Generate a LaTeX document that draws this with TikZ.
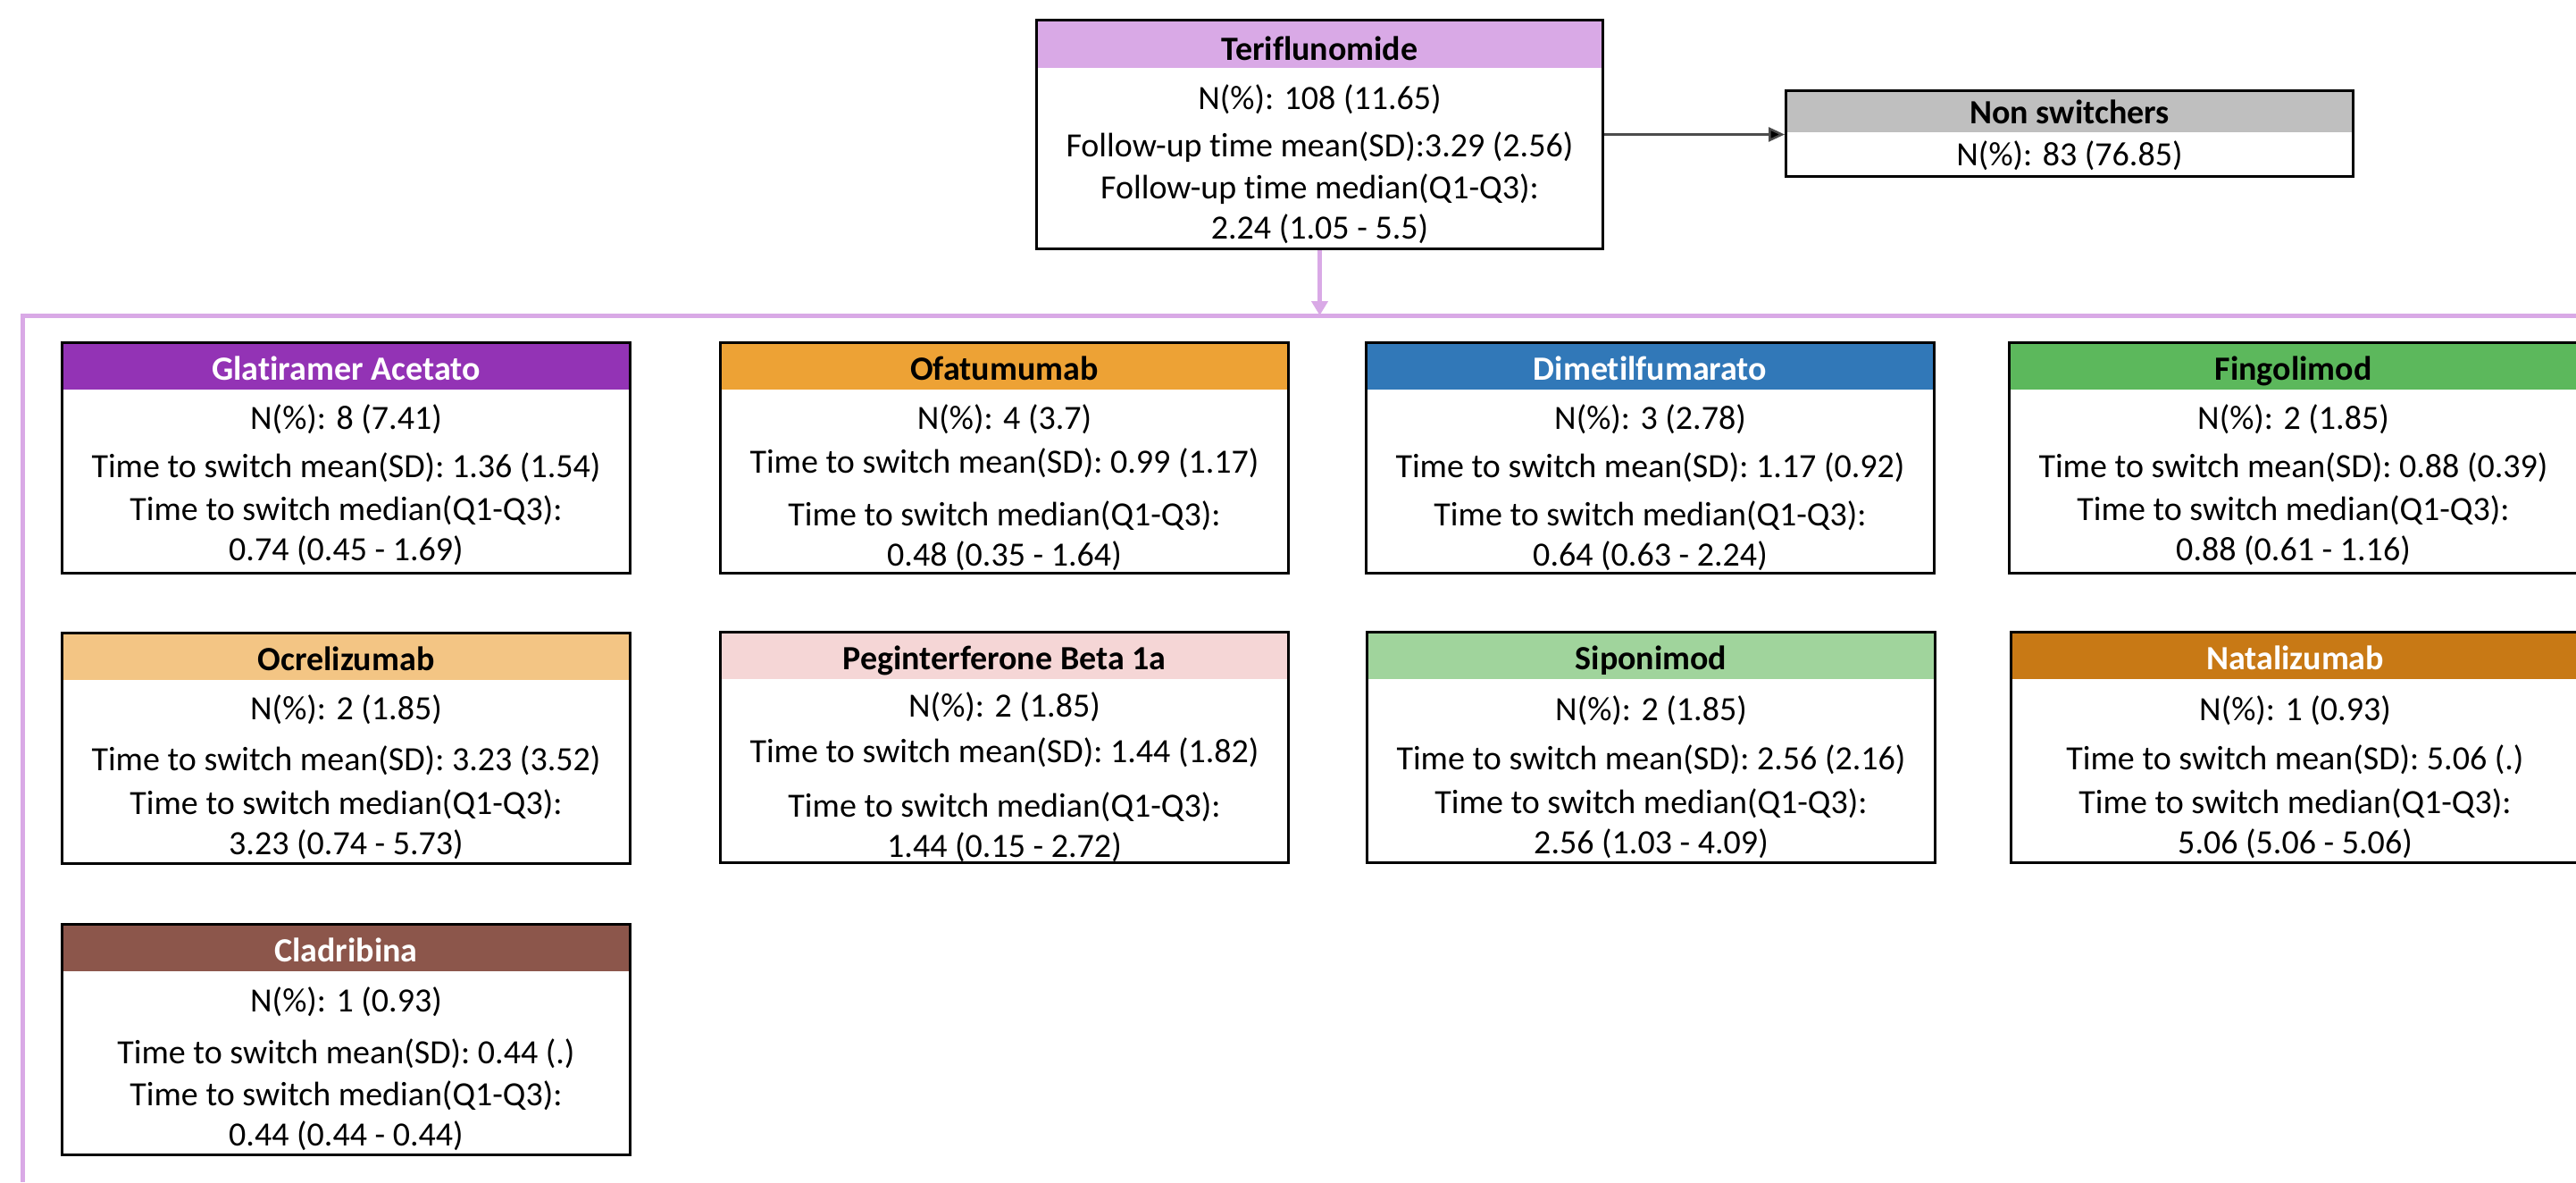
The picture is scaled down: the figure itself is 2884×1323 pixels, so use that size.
\documentclass[tikz,border=0pt]{standalone}
\usepackage{fontspec}
\setmainfont{Carlito}[Ligatures=CommonOff]
\usetikzlibrary{calc,arrows.meta}

\definecolor{cTeri}{HTML}{D9A9E6}
\definecolor{cBus}{HTML}{D9A9E6}
\definecolor{cGray}{HTML}{BFBFBF}
\definecolor{cGlat}{HTML}{9333B5}
\definecolor{cOfat}{HTML}{EDA235}
\definecolor{cDime}{HTML}{3178B8}
\definecolor{cFing}{HTML}{5CB85C}
\definecolor{cOcre}{HTML}{F3C584}
\definecolor{cPeg}{HTML}{F5D6D6}
\definecolor{cSipo}{HTML}{A0D49C}
\definecolor{cNata}{HTML}{C87915}
\definecolor{cClad}{HTML}{8C564B}

\tikzset{
  box/.style={draw=black, line width=3pt, minimum width=636pt, minimum height=258pt,
    anchor=north west, inner sep=0pt},
  txt/.style={font=\fontsize{38}{46}\selectfont, inner sep=0pt, anchor=base},
  ttl/.style={font=\fontsize{38}{46}\selectfont\bfseries, inner sep=0pt, anchor=base},
  bus/.style={draw=cBus, line width=5pt},
}

% per-box fine offsets of the text lines (N, mean, median), reset after each box
\def\dN{0}\def\dMean{0}\def\dMed{0}
\newcommand\lineshift[3]{\def\dN{#1}\def\dMean{#2}\def\dMed{#3}}

% one treatment box: name, x, y, header colour, title colour, title, N(%), mean(SD), median(Q1-Q3)
\newcommand\drugbox[9]{%
  \fill[#4] (#2,#3) rectangle ++(636,54);
  \node[box] (#1) at (#2,#3) {};
  \node[ttl, text=#5] (#1-title) at ($(#1.north)+(0,43)$) {#6};
  \node[txt] (#1-n) at ($(#1.north)+(0,{98+\dN})$) {N(\%): #7};
  \node[txt] (#1-mean) at ($(#1.north)+(0,{152+\dMean})$) {Time to switch mean(SD): #8};
  \node[txt] (#1-medlab) at ($(#1.north)+(0,{200+\dMed})$) {Time to switch median(Q1-Q3):};
  \node[txt] (#1-med) at ($(#1.north)+(0,{245+\dMed})$) {#9};
  \lineshift{0}{0}{0}%
}

\begin{document}
\begin{tikzpicture}[x=1pt,y=-1pt]
\useasboundingbox (0,0) rectangle (2884,1323);
\fill[white] (0,0) rectangle (2884,1323);

% starting treatment
\fill[cTeri] (1159,21) rectangle (1793,76);
\node[box, minimum width=634pt, minimum height=256pt] (teri) at (1159,21) {};
\node[ttl] (teri-title) at ($(teri.north)+(0,46)$) {Teriflunomide};
\node[txt] (teri-n) at ($(teri.north)+(0,101)$) {N(\%): 108 (11.65)};
\node[txt] (teri-mean) at ($(teri.north)+(0,154)$) {Follow-up time mean(SD):3.29 (2.56)};
\node[txt] (teri-medlab) at ($(teri.north)+(0,201)$) {Follow-up time median(Q1-Q3):};
\node[txt] (teri-med) at ($(teri.north)+(0,246)$) {2.24 (1.05 - 5.5)};

% patients who stayed on it
\fill[cGray] (1998,100) rectangle (2633,148);
\node[box, minimum width=635pt, minimum height=96pt] (nonsw) at (1998,100) {};
\node[ttl] (nonsw-title) at ($(nonsw.north)+(0,38)$) {Non switchers};
\node[txt] (nonsw-n) at ($(nonsw.north)+(0,85)$) {N(\%): 83 (76.85)};

\draw[draw=black!70, line width=2.5pt, -{Triangle[length=18pt,width=16pt,fill=black]}]
  (teri.east) -- (teri.east -| nonsw.west);

% branch line to the switch targets
\coordinate (busL) at (25,353);
\coordinate (busR) at (2884,353);
\coordinate (busB) at (25,1323);
\draw[bus] (busR) -- (busL) -- (busB);
\draw[draw=cBus, line width=5pt, -{Triangle[length=16pt,width=18pt]}]
  (teri.south) -- (teri.south |- busL);

% switch targets
\drugbox{glat}{68}{382}{cGlat}{white}{Glatiramer Acetato}{8 (7.41)}{1.36 (1.54)}{0.74 (0.45 - 1.69)}
\lineshift{0}{-5}{6}
\drugbox{ofat}{805}{382}{cOfat}{black}{Ofatumumab}{4 (3.7)}{0.99 (1.17)}{0.48 (0.35 - 1.64)}
\lineshift{0}{0}{6}
\drugbox{dime}{1528}{382}{cDime}{white}{Dimetilfumarato}{3 (2.78)}{1.17 (0.92)}{0.64 (0.63 - 2.24)}
\drugbox{fing}{2248}{382}{cFing}{black}{Fingolimod}{2 (1.85)}{0.88 (0.39)}{0.88 (0.61 - 1.16)}

\lineshift{0}{3}{4}
\drugbox{ocre}{68}{707}{cOcre}{black}{Ocrelizumab}{2 (1.85)}{3.23 (3.52)}{3.23 (0.74 - 5.73)}
\lineshift{-2}{-5}{8}
\drugbox{peg}{805}{706}{cPeg}{black}{Peginterferone Beta 1a}{2 (1.85)}{1.44 (1.82)}{1.44 (0.15 - 2.72)}
\lineshift{2}{3}{4}
\drugbox{sipo}{1529}{706}{cSipo}{black}{Siponimod}{2 (1.85)}{2.56 (2.16)}{2.56 (1.03 - 4.09)}
\lineshift{2}{3}{4}
\drugbox{nata}{2250}{706}{cNata}{white}{Natalizumab}{1 (0.93)}{5.06 (.)}{5.06 (5.06 - 5.06)}

\lineshift{1}{5}{4}
\drugbox{clad}{68}{1033}{cClad}{white}{Cladribina}{1 (0.93)}{0.44 (.)}{0.44 (0.44 - 0.44)}
\end{tikzpicture}
\end{document}
